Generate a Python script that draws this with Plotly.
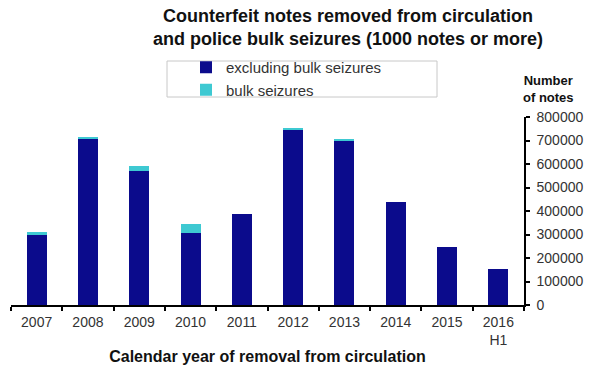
import plotly.graph_objects as go

years = ["2007", "2008", "2009", "2010", "2011", "2012", "2013", "2014", "2015", "2016<br>H1"]
excluding_bulk = [298000, 705000, 570000, 305000, 386000, 745000, 702000, 438000, 248000, 152000]
bulk_seizures = [14000, 11000, 21000, 41000, 0, 7000, 6000, 0, 0, 0]
y_ticks = [0, 100000, 200000, 300000, 400000, 500000, 600000, 700000, 800000]

NAVY = "#0b0b8c"
CYAN = "#3ec9d2"
FONT = "Liberation Sans, Arial, sans-serif"

fig = go.Figure()
fig.add_trace(go.Bar(x=years, y=excluding_bulk, name="excluding bulk seizures",
                     marker=dict(color=NAVY, line=dict(width=0))))
fig.add_trace(go.Bar(x=years, y=bulk_seizures, name="bulk seizures",
                     marker=dict(color=CYAN, line=dict(width=0))))

L, R = 11, 524
T, B = 117, 305
W, H = 594, 371

def px_x(x):
    return (x - L) / (R - L)

def px_y(y):
    return (B - y) / (B - T)

fig.update_layout(
    width=W, height=H,
    margin=dict(l=L, r=W - R, t=T, b=H - B, autoexpand=False),
    barmode="stack",
    bargap=0.61,
    plot_bgcolor="white",
    paper_bgcolor="white",
    font=dict(family=FONT, size=12, color="#333333"),
    showlegend=True,
    legend=dict(
        x=px_x(186), y=px_y(51), xanchor="left", yanchor="top",
        bgcolor="rgba(0,0,0,0)", borderwidth=0,
        traceorder="normal",
        font=dict(family=FONT, size=15, color="#333333"),
        itemwidth=30, tracegroupgap=0,
    ),
    xaxis=dict(
        type="category",
        automargin=False,
        showline=True, linecolor="#000000", linewidth=1.5,
        ticks="outside", ticklen=4, tickcolor="#000000", tickwidth=1.5,
        tickson="boundaries",
        showgrid=False,
        ticklabelstandoff=3,
        tickfont=dict(family=FONT, size=14, color="#333333"),
        title=dict(text="<b>Calendar year of removal from circulation</b>",
                   font=dict(family=FONT, size=16, color="#111111"), standoff=4),
    ),
    yaxis=dict(
        side="right",
        automargin=False,
        range=[0, 800000],
        tickvals=y_ticks,
        ticktext=[str(v) for v in y_ticks],
        showline=True, linecolor="#000000", linewidth=1.5,
        ticks="outside", ticklen=4, tickcolor="#000000", tickwidth=1.5,
        showgrid=False, zeroline=False,
        ticklabelstandoff=4,
        tickfont=dict(family=FONT, size=14, color="#333333"),
    ),
    title=dict(
        text="<b>Counterfeit notes removed from circulation<br>and police bulk seizures (1000 notes or more)</b>",
        x=348 / W, xanchor="center",
        y=1 - 22 / H, yanchor="middle",
        font=dict(family=FONT, size=18, color="#111111"),
    ),
    shapes=[dict(
        type="rect", xref="paper", yref="paper",
        x0=px_x(167), x1=px_x(437), y0=px_y(97), y1=px_y(61),
        line=dict(color="#c8c8c8", width=1), fillcolor="rgba(0,0,0,0)",
    )],
    annotations=[dict(
        text="<b>Number<br>of notes</b>", xref="paper", yref="paper",
        x=px_x(548), y=px_y(89), xanchor="center", yanchor="middle",
        showarrow=False, align="center",
        font=dict(family=FONT, size=13, color="#111111"),
    )],
)

fig.write_html("out.html")
